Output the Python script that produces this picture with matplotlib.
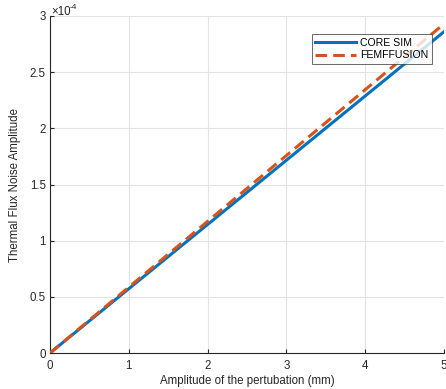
import matplotlib
matplotlib.use("Agg")
import matplotlib.pyplot as plt
from matplotlib.ticker import FuncFormatter

plt.rcParams['font.family'] = ['Liberation Sans', 'DejaVu Sans']

amplitude = [0, 1, 2, 3, 4, 5]
core_sim = [0, 0.572e-4, 1.144e-4, 1.716e-4, 2.288e-4, 2.86e-4]
femffusion = [0, 0.586e-4, 1.172e-4, 1.758e-4, 2.344e-4, 2.93e-4]
xticks = [0, 1, 2, 3, 4, 5]
yticks = [0, 0.5e-4, 1e-4, 1.5e-4, 2e-4, 2.5e-4, 3e-4]

W, H = 446, 389
fig = plt.figure(figsize=(W/100, H/100), dpi=100)
ax = fig.add_axes([50/W, 36/H, 394/W, 337/H])

ax.plot(amplitude, core_sim, color='#0072BD', lw=2.2, label='CORE SIM', zorder=3)
ax.plot(amplitude, femffusion, color='#D95319', lw=2.2, ls=(0, (3.8, 2.0)), label='FEMFFUSION', zorder=4)

ax.set_xlim(0, 5)
ax.set_ylim(0, 3e-4)
ax.set_xticks(xticks)
ax.set_yticks(yticks)
ax.yaxis.set_major_formatter(FuncFormatter(lambda v, p: f"{v/1e-4:g}"))
ax.grid(True, color='#e3e3e3', lw=0.8)
ax.set_axisbelow(True)
for s in ['top', 'right']:
    ax.spines[s].set_visible(False)
for s in ['left', 'bottom']:
    ax.spines[s].set_color('#262626')
    ax.spines[s].set_linewidth(0.8)
ax.tick_params(direction='in', length=3, colors='#262626', labelsize=8.3, width=0.8)
ax.tick_params(axis='x', pad=5)
ax.tick_params(axis='y', pad=3)

ax.set_xlabel('Amplitude of the pertubation (mm)', fontsize=8.3, color='#262626', labelpad=2)
ax.set_ylabel('Thermal Flux Noise Amplitude', fontsize=8.3, color='#262626', labelpad=6)
fig.text(51/W, 1 - 15/H, '×10', fontsize=8.3, color='#262626', ha='left', va='baseline')
fig.text(70/W, 1 - 9/H, '-4', fontsize=6, color='#262626', ha='left', va='baseline')

leg = ax.legend(loc='upper right', bbox_to_anchor=(382/394, 1 - 18/337), fontsize=7.6,
                frameon=True, fancybox=False, handlelength=3.9, borderpad=0.35,
                labelspacing=0.25, handletextpad=0.35, borderaxespad=0)
leg.get_frame().set_edgecolor('#262626')
leg.get_frame().set_linewidth(0.6)

fig.savefig('out.png', dpi=100)
